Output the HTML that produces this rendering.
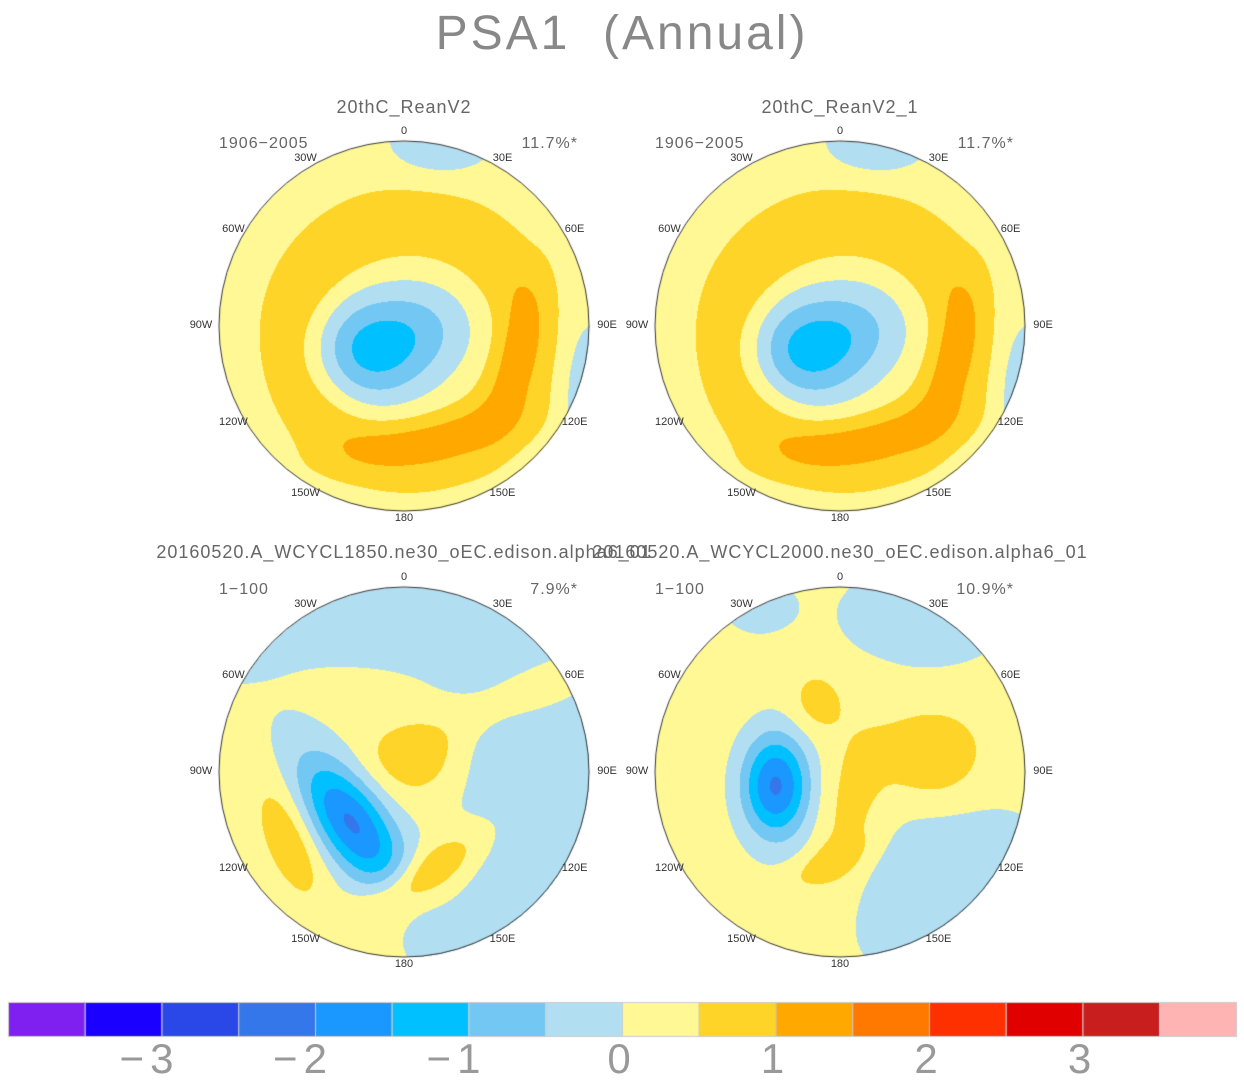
<!DOCTYPE html>
<html><head><meta charset="utf-8">
<style>
body{margin:0;background:#fff;width:1244px;height:1082px;position:relative;overflow:hidden;font-family:"Liberation Sans",sans-serif;}
.t{position:absolute;color:#444;white-space:nowrap;}
canvas{position:absolute;}
</style></head><body>
<div class="t" style="left:0;width:1244px;text-align:center;top:6px;font-size:48px;color:#888;letter-spacing:3px">PSA1 &nbsp;(Annual)</div>
<div id="root"></div>
<canvas id="cb" width="1244" height="80" style="left:0;top:1000px"></canvas>
<script>
// colour levels (interval 0.5, from -4 upward)
const levelColors=["#8020f0","#1a00ff","#2a48e8","#3477ea","#1a98ff","#00c0ff","#72c8f2","#b2def2","#fff895","#ffd428","#ffa800","#ff7800","#ff3000","#e00000","#c81e1e","#ffb4b4"];
const cbTicks=[-3,-2,-1,0,1,2,3];
const panelTitles=["20thC_ReanV2","20thC_ReanV2_1","20160520.A_WCYCL1850.ne30_oEC.edison.alpha6_01","20160520.A_WCYCL2000.ne30_oEC.edison.alpha6_01"];
const panelYears=["1906\u22122005","1906\u22122005","1\u2212100","1\u2212100"];
const panelPct=["11.7%*","11.7%*","7.9%*","10.9%*"];
const lonLabels=["0","30E","60E","90E","120E","150E","180","150W","120W","90W","60W","30W"];
// field anomalies: [x, y, sx, sy, rot(deg), amplitude] in normalized disk coords
const baseVals=[0.3,0.3,-0.1,0.25];
// ring anomalies: [x, y, radius, width, amplitude]
const ringA=[[0.03,0.07,0.62,0.14,0.6]];
const ringC=[];
const anomA=[[-0.18,0.13,0.22,0.2,0,-1.45],[0.12,0.0,0.2,0.18,0,-0.6],[0.12,0.6,0.38,0.09,-12,0.45],[0.6,0.15,0.08,0.28,15,0.45],[0.2,-1.0,0.2,0.12,0,-0.8],[1.0,0.4,0.1,0.3,0,-0.8]];
const anomB=anomA;
const anomC=[[-0.3,0.2,0.6,0.6,0,0.45],[-0.1,-0.75,0.8,0.2,0,-0.15],[0.6,0.4,0.3,0.45,0,-0.35],[0.45,-0.2,0.2,0.25,0,-0.2],[0.55,-0.38,0.45,0.1,-25,0.35],[-0.29,0.27,0.3,0.14,55,-2.4],[0.08,-0.08,0.17,0.14,0,0.6],[-0.62,0.35,0.1,0.25,-20,0.65],[0.08,0.58,0.3,0.09,-35,1.0]];
const anomD=[[0.6,0.65,0.45,0.35,0,-0.75],[0.45,-0.85,0.35,0.22,0,-0.6],[-0.45,-0.9,0.15,0.12,0,-0.5],[-0.35,0.07,0.13,0.2,0,-2.3],[0.5,-0.08,0.18,0.17,0,0.75],[0.05,0.25,0.13,0.35,10,0.55],[-0.08,0.5,0.18,0.07,-25,0.5],[-0.13,-0.38,0.1,0.12,0,0.5]];
const anoms=[anomA,anomB,anomC,anomD];
const rings=[ringA,ringA,ringC,ringC];
const centers=[[404,326],[840,326],[404,772],[840,772]];
const R=185;
const LMIN=-4;

function field(k,x,y){
  let v=baseVals[k];
  for(const a of anoms[k]){
    const t=a[4]*Math.PI/180,dx=x-a[0],dy=y-a[1];
    const u=dx*Math.cos(t)+dy*Math.sin(t),w=-dx*Math.sin(t)+dy*Math.cos(t);
    v+=a[5]*Math.exp(-(u*u/(2*a[2]*a[2])+w*w/(2*a[3]*a[3])));
  }
  for(const r of rings[k]){
    const d=Math.hypot(x-r[0],y-r[1])-r[2];
    v+=r[4]*Math.exp(-d*d/(2*r[3]*r[3]));
  }
  return v;
}
function hex(c){return[parseInt(c.slice(1,3),16),parseInt(c.slice(3,5),16),parseInt(c.slice(5,7),16)];}
const rgb=levelColors.map(hex);
const root=document.getElementById('root');
function addText(txt,name,x,y,size,anchor,color,ls){
  const d=document.createElement('div');d.className='t';d.textContent=txt;
  
  
  d.style.fontSize=size+'px';d.style.top=(y-size*0.6)+'px';
  if(ls)d.style.letterSpacing=ls+'px';
  if(color)d.style.color=color;
  if(anchor==='c'){d.style.left=(x-300)+'px';d.style.width='600px';d.style.textAlign='center';}
  else if(anchor==='r'){d.style.left=(x-600)+'px';d.style.width='600px';d.style.textAlign='right';}
  else d.style.left=x+'px';
  root.appendChild(d);
}
centers.forEach((c,k)=>{
  const cv=document.createElement('canvas');cv.width=2*R+4;cv.height=2*R+4;
  cv.style.left=(c[0]-R-2)+'px';cv.style.top=(c[1]-R-2)+'px';
  
  
  root.appendChild(cv);
  const ctx=cv.getContext('2d');const img=ctx.createImageData(cv.width,cv.height);
  for(let py=0;py<cv.height;py++)for(let px=0;px<cv.width;px++){
    const x=(px-R-2)/R,y=(py-R-2)/R;if(x*x+y*y>1)continue;
    const v=field(k,x,y);let i=Math.floor((v-LMIN)/0.5);i=Math.max(0,Math.min(15,i));
    const o=(py*cv.width+px)*4;img.data[o]=rgb[i][0];img.data[o+1]=rgb[i][1];img.data[o+2]=rgb[i][2];img.data[o+3]=255;
  }
  ctx.putImageData(img,0,0);
  ctx.beginPath();ctx.arc(R+2,R+2,R,0,Math.PI*2);ctx.strokeStyle='#333';ctx.lineWidth=1;ctx.stroke();
  lonLabels.forEach((l,j)=>{
    const a=j*30*Math.PI/180,rr=(j%3===0)?R+10:R+2;
    let x=c[0]+Math.sin(a)*(rr+ (j%3===0?8:10)),y=c[1]-Math.cos(a)*(rr+(j%3===0?1:6));
    if(j===0)y=c[1]-R-9;if(j===6)y=c[1]+R+8;
    addText(l,'lon-label-'+l,x,y,11,'c','#333');
  });
  const ty=k<2?108:553;
  addText(panelTitles[k],'panel-title-'+(k+1),c[0],ty,18,'c','#666',1);
  addText(panelYears[k],'panel-period-'+(k+1),c[0]-185,c[1]-181,16,'l','#666',1);
  addText(panelPct[k],'panel-variance-'+(k+1),c[0]+174,c[1]-181,16,'r','#666',1);
});
// colorbar
const cb=document.getElementById('cb').getContext('2d');
const x0=8,bw=(1236-8)/16;
levelColors.forEach((col,i)=>{cb.fillStyle=col;cb.fillRect(x0+i*bw,2,bw,34);cb.strokeStyle='#ccc';cb.strokeRect(x0+i*bw+0.5,2.5,bw,34);});
cbTicks.forEach(t=>{
  const i=(t-LMIN)/0.5;addText(t<0?'\u2212'+(-t):String(t),'colorbar-tick',x0+i*bw-(t<0?12:0),1060,42,'c','#999',6);
});
</script>
</body></html>
